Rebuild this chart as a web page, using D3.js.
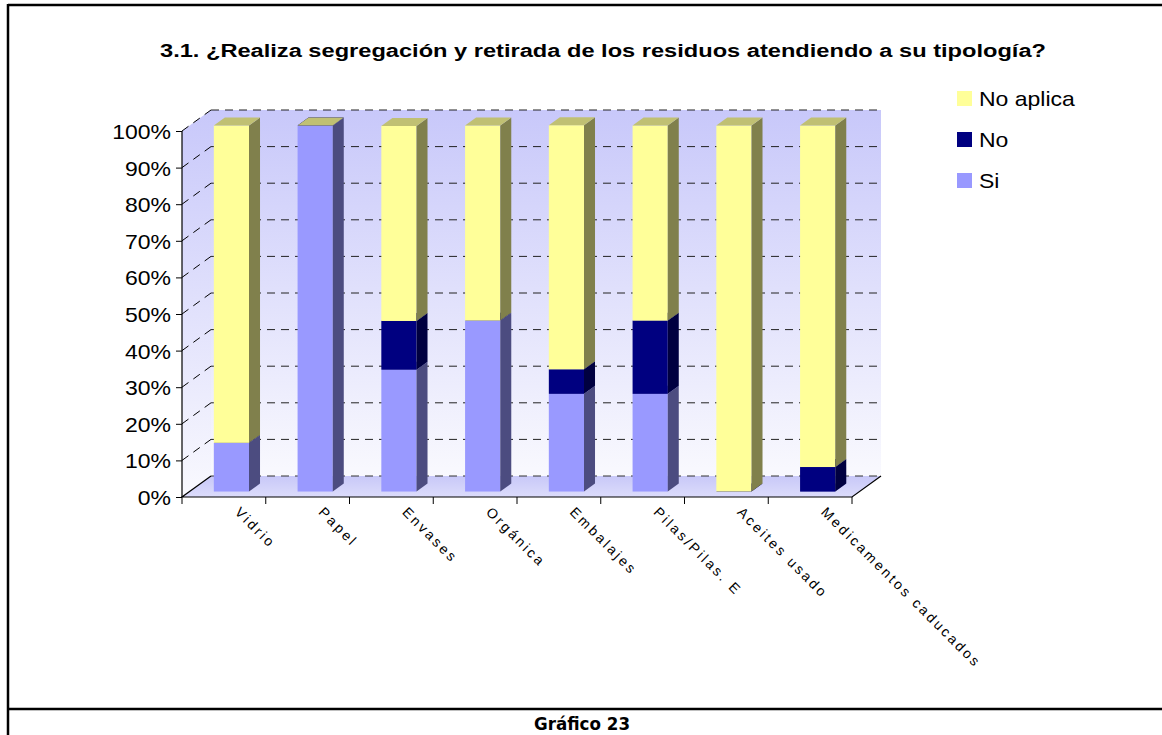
<!DOCTYPE html>
<html>
<head>
<meta charset="utf-8">
<script src="https://cdn.jsdelivr.net/npm/d3@7"></script>
<style>
  body { margin: 0; background: #fff; }
  svg { display: block; }
</style>
</head>
<body>
<div id="chart"></div>
<script>
'use strict';

var categories = ["Vidrio", "Papel", "Envases", "Orgánica", "Embalajes", "Pilas/Pilas. E", "Aceites usado", "Medicamentos caducados"];
var seriesNames = ["Si", "No", "No aplica"];
var siValues = [13.3, 100, 33.3, 46.7, 26.7, 26.7, 0, 0];
var noValues = [0, 0, 13.3, 0, 6.7, 20, 0, 6.7];
var noAplicaValues = [86.7, 0, 53.3, 53.3, 66.7, 53.3, 100, 93.3];
var yTicks = [0, 10, 20, 30, 40, 50, 60, 70, 80, 90, 100];
var chartTitle = "3.1. ¿Realiza segregación y retirada de los residuos atendiendo a su tipología?";
var caption = "Gráfico 23";

function bar3d() {

  var scope = this;
  var exports = {};

  scope.width = 1162;
  scope.height = 735;

  // front plane of the 3d box
  scope.plot = { left: 182, right: 852, bottom: 497, top: 131 };
  scope.depth = [29, -21];
  scope.barDepth = [0.26, 0.64];
  scope.stretch = 1.15;

  scope.colors = {
    "Si": { front: "#9999FF", side: "#4C4C80", top: "#7A7ACC" },
    "No": { front: "#000080", side: "#000040", top: "#000066" },
    "No aplica": { front: "#FFFF99", side: "#80804C", top: "#C0C073" }
  };

  scope.xScale = d3.scaleBand().domain(categories)
    .range([scope.plot.left, scope.plot.right]).paddingInner(0).paddingOuter(0);
  scope.yScale = d3.scaleLinear().domain([0, 100])
    .range([scope.plot.bottom, scope.plot.top]);

  function dx(f) { return scope.depth[0] * f; }
  function dy(f) { return scope.depth[1] * f; }

  scope.appendSVG = function(DOMObj) {
    return d3.select(DOMObj).append("svg")
      .attr("width", scope.width)
      .attr("height", scope.height);
  }

  scope.appendFrame = function(svg) {
    var g = svg.append("g").attr("stroke", "#000").attr("stroke-width", 2.5);
    g.append("line").attr("x1", 8).attr("x2", 1170).attr("y1", 5).attr("y2", 5);
    g.append("line").attr("x1", 8).attr("x2", 8).attr("y1", 4).attr("y2", 740);
    g.append("line").attr("x1", 8).attr("x2", 1170).attr("y1", 709).attr("y2", 709);

    svg.append("text")
      .attr("x", 582).attr("y", 730)
      .attr("text-anchor", "middle")
      .style("font-family", "'DejaVu Sans', Verdana, sans-serif")
      .style("font-weight", "bold")
      .style("font-size", "17px")
      .attr("textLength", 96)
      .attr("lengthAdjust", "spacingAndGlyphs")
      .text(caption);

    svg.append("text")
      .attr("x", 603).attr("y", 57)
      .attr("text-anchor", "middle")
      .style("font-family", "'Liberation Sans', Arial, sans-serif")
      .style("font-weight", "bold")
      .style("font-size", "18px")
      .attr("textLength", 886)
      .attr("lengthAdjust", "spacingAndGlyphs")
      .text(chartTitle);
  }

  scope.appendWalls = function(svg) {
    var p = scope.plot;
    var defs = svg.append("defs");
    var wallGrad = defs.append("linearGradient").attr("id", "wallGrad")
      .attr("x1", 0).attr("y1", 0).attr("x2", 0).attr("y2", 1);
    wallGrad.append("stop").attr("offset", "0%").attr("stop-color", "#C8C8FA");
    wallGrad.append("stop").attr("offset", "100%").attr("stop-color", "#F9F9FE");
    var floorGrad = defs.append("linearGradient").attr("id", "floorGrad")
      .attr("x1", 0).attr("y1", 0).attr("x2", 0).attr("y2", 1);
    floorGrad.append("stop").attr("offset", "0%").attr("stop-color", "#C8C8F8");
    floorGrad.append("stop").attr("offset", "100%").attr("stop-color", "#DCDCFB");

    var D = [dx(1), dy(1)];
    var line = d3.line();

    // back wall
    svg.append("path")
      .attr("d", line([[p.left + D[0], p.top + D[1]], [p.right + D[0], p.top + D[1]],
        [p.right + D[0], p.bottom + D[1]], [p.left + D[0], p.bottom + D[1]]]) + "Z")
      .attr("fill", "url(#wallGrad)");
    // side wall
    svg.append("path")
      .attr("d", line([[p.left, p.top], [p.left + D[0], p.top + D[1]],
        [p.left + D[0], p.bottom + D[1]], [p.left, p.bottom]]) + "Z")
      .attr("fill", "url(#wallGrad)");
    // floor
    svg.append("path")
      .attr("d", line([[p.left, p.bottom], [p.left + D[0], p.bottom + D[1]],
        [p.right + D[0], p.bottom + D[1]], [p.right, p.bottom]]) + "Z")
      .attr("fill", "url(#floorGrad)");

    // gridlines
    var grid = svg.append("g").attr("class", "grid");
    grid.selectAll(".gback").data(yTicks).enter().append("line")
      .attr("x1", p.left + D[0]).attr("x2", p.right + D[0])
      .attr("y1", function(d) { return scope.yScale(d) + D[1]; })
      .attr("y2", function(d) { return scope.yScale(d) + D[1]; })
      .attr("stroke", function(d) { return d === 0 ? "#333" : "#222"; })
      .attr("stroke-width", 1)
      .attr("stroke-dasharray", "8,6");
    grid.selectAll(".gside").data(yTicks.filter(function(d) { return d > 0; })).enter().append("line")
      .attr("x1", p.left).attr("x2", p.left + D[0])
      .attr("y1", function(d) { return scope.yScale(d); })
      .attr("y2", function(d) { return scope.yScale(d) + D[1]; })
      .attr("stroke", "#000")
      .attr("stroke-width", 1)
      .attr("stroke-dasharray", "8,6");

    // solid edges of the floor
    svg.append("path")
      .attr("d", line([[p.left + D[0], p.bottom + D[1]], [p.left, p.bottom], [p.right, p.bottom],
        [p.right + D[0], p.bottom + D[1]]]))
      .attr("fill", "none")
      .attr("stroke", "#000")
      .attr("stroke-width", 1.2);
  }

  scope.appendAxes = function(svg) {
    var p = scope.plot;
    var yAxis = d3.axisLeft(scope.yScale)
      .tickValues(yTicks)
      .tickSize(6)
      .tickPadding(4)
      .tickFormat(function(d) { return d + "%"; });

    var yG = svg.append("g")
      .attr("class", "axis axis--y")
      .attr("transform", "translate(" + p.left + ",0)")
      .call(yAxis);
    yG.select(".domain").attr("stroke", "#000").attr("stroke-width", 1.2).attr("d", "M0," + p.top + "V" + p.bottom);
    yG.selectAll(".tick line").attr("stroke", "#000");
    yG.selectAll(".tick text")
      .attr("x", null)
      .style("font-family", "'Liberation Sans', Arial, sans-serif")
      .style("font-size", "20px")
      .attr("fill", "#000")
      .attr("text-anchor", "end")
      .attr("transform", "translate(-11,1) scale(" + scope.stretch + ",1)");

    // x ticks at band edges
    var edges = categories.map(function(c) { return scope.xScale(c); }).concat([p.right]);
    svg.selectAll(".xtick").data(edges).enter().append("line")
      .attr("x1", function(d) { return d; }).attr("x2", function(d) { return d; })
      .attr("y1", p.bottom).attr("y2", p.bottom + 7)
      .attr("stroke", "#000").attr("stroke-width", 1);

    svg.selectAll(".xlabel").data(categories).enter().append("text")
      .attr("transform", function(d) {
        return "translate(" + (scope.xScale(d) + scope.xScale.bandwidth() / 2 + 10) + "," + (p.bottom + 16) + ") rotate(45)";
      })
      .style("font-family", "'Liberation Sans', Arial, sans-serif")
      .style("font-size", "14px")
      .style("letter-spacing", "2.6px")
      .attr("fill", "#000")
      .text(function(d) { return d; });
  }

  scope.appendBars = function(svg) {
    var rows = categories.map(function(c, i) {
      return { category: c, "Si": siValues[i], "No": noValues[i], "No aplica": noAplicaValues[i] };
    });
    var stacked = d3.stack().keys(seriesNames)(rows);
    var bw = scope.xScale.bandwidth() * 0.42;
    var f0 = scope.barDepth[0], f1 = scope.barDepth[1];
    var line = d3.line();

    rows.forEach(function(row, i) {
      var g = svg.append("g").attr("class", "bar");
      var cx = scope.xScale(row.category) + scope.xScale.bandwidth() / 2;
      var x0 = cx - bw / 2 + dx(f0), x1 = cx + bw / 2 + dx(f0);
      var sx = dx(f1 - f0), sy = dy(f1 - f0);
      stacked.forEach(function(layer) {
        var seg = layer[i];
        var yb = scope.yScale(seg[0]) + dy(f0);
        var yt = scope.yScale(seg[1]) + dy(f0);
        var col = scope.colors[layer.key];
        if (yb - yt > 0) {
          g.append("rect")
            .attr("x", x0).attr("y", yt)
            .attr("width", x1 - x0).attr("height", yb - yt)
            .attr("fill", col.front);
          g.append("path")
            .attr("d", line([[x1, yb], [x1, yt], [x1 + sx, yt + sy], [x1 + sx, yb + sy]]) + "Z")
            .attr("fill", col.side);
        }
        g.append("path")
          .attr("d", line([[x0, yt], [x1, yt], [x1 + sx, yt + sy], [x0 + sx, yt + sy]]) + "Z")
          .attr("fill", col.top);
      });
    });
  }

  scope.appendLegend = function(svg) {
    var order = seriesNames.slice().reverse();
    var item = svg.selectAll(".legend").data(order).enter().append("g")
      .attr("class", "legend")
      .attr("transform", function(d, i) { return "translate(957," + (91 + i * 41) + ")"; });
    item.append("rect")
      .attr("width", 15).attr("height", 15)
      .attr("fill", function(d) { return scope.colors[d].front; });
    item.append("text")
      .attr("transform", "translate(22,15) scale(" + scope.stretch + ",1)")
      .style("font-family", "'Liberation Sans', Arial, sans-serif")
      .style("font-size", "20px")
      .attr("fill", "#000")
      .text(function(d) { return d; });
  }

  exports.run = function(DOMObj) {
    var svg = scope.appendSVG(DOMObj);
    scope.appendFrame(svg);
    scope.appendWalls(svg);
    scope.appendAxes(svg);
    scope.appendBars(svg);
    scope.appendLegend(svg);
  }
  return exports;
}

bar3d.call({}).run(document.getElementById("chart"));
</script>
</body>
</html>
